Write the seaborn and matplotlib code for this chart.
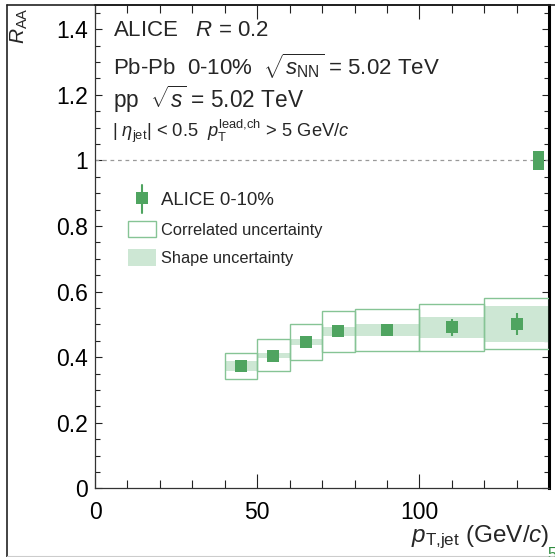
import numpy as np
import pandas as pd
import seaborn as sns
import matplotlib.pyplot as plt
from matplotlib.patches import Patch
from matplotlib.lines import Line2D
from matplotlib.ticker import MultipleLocator, FuncFormatter

# data
bin_lo = [40, 50, 60, 70, 80, 100, 120]
bin_hi = [50, 60, 70, 80, 100, 120, 140]
raa = [0.373, 0.405, 0.446, 0.479, 0.483, 0.491, 0.502]
stat_err = [0.006, 0.006, 0.006, 0.008, 0.012, 0.025, 0.033]
corr_lo = [0.334, 0.357, 0.392, 0.416, 0.418, 0.420, 0.424]
corr_hi = [0.412, 0.454, 0.501, 0.541, 0.548, 0.561, 0.580]
shape_lo = [0.358, 0.398, 0.436, 0.465, 0.464, 0.457, 0.446]
shape_hi = [0.388, 0.413, 0.456, 0.493, 0.502, 0.523, 0.557]
norm_x = [136.7]
norm_unc = [0.029]

df = pd.DataFrame({"lo": bin_lo, "hi": bin_hi, "raa": raa, "stat": stat_err,
                   "clo": corr_lo, "chi": corr_hi, "slo": shape_lo, "shi": shape_hi})
df["pt"] = (df["lo"] + df["hi"]) / 2
df["w"] = df["hi"] - df["lo"]

green = "#4fa460"
light = "#cde7d4"
edge = "#86c495"

sns.set_theme(style="ticks")
plt.rcParams["font.family"] = ["Liberation Sans", "DejaVu Sans"]
plt.rcParams["mathtext.fontset"] = "custom"
plt.rcParams["mathtext.rm"] = "Liberation Sans"
plt.rcParams["mathtext.it"] = "Liberation Sans:italic"
plt.rcParams["mathtext.bf"] = "Liberation Sans:bold"

fig = plt.figure(figsize=(5.55, 5.57), dpi=100)
ax = fig.add_axes([95 / 555, 1 - 488.3 / 557, 454.3 / 555, 483.6 / 557])

ax.axhline(1, color="#999999", lw=0.9, ls=(0, (3, 3)), zorder=1)

# shape uncertainty bands
ax.bar(df["lo"], df["shi"] - df["slo"], width=df["w"], bottom=df["slo"],
       align="edge", color=light, linewidth=0, zorder=2)
# correlated uncertainty boxes
ax.bar(df["lo"], df["chi"] - df["clo"], width=df["w"], bottom=df["clo"],
       align="edge", fill=False, edgecolor=edge, linewidth=1.0, zorder=3)
ax.errorbar(df["pt"], df["raa"], yerr=df["stat"], fmt="none", ecolor=green,
            elinewidth=1.5, capsize=0, zorder=4)
sns.scatterplot(data=df, x="pt", y="raa", marker="s", s=75, color=green,
                edgecolor="none", ax=ax, zorder=5, legend=False)
# normalisation uncertainty
ax.bar(norm_x, [2 * u for u in norm_unc], width=3.3,
       bottom=[1 - u for u in norm_unc], color=green, linewidth=0, zorder=5)

ax.set_xlim(0, 140)
ax.set_ylim(0, 1.475)
ax.xaxis.set_major_locator(MultipleLocator(50))
ax.xaxis.set_minor_locator(MultipleLocator(10))
ax.yaxis.set_major_locator(MultipleLocator(0.2))
ax.yaxis.set_minor_locator(MultipleLocator(0.05))
fmt = FuncFormatter(lambda v, p: f"{v:g}")
ax.xaxis.set_major_formatter(fmt)
ax.yaxis.set_major_formatter(fmt)
ax.tick_params(axis="both", which="both", direction="in", top=True, right=True,
               colors="#222222", width=0.8, labelsize=16.5, labelcolor="black")
ax.tick_params(axis="x", which="major", length=10, pad=9)
ax.tick_params(axis="x", which="minor", length=5.5)
ax.tick_params(axis="y", which="major", length=5, pad=5)
ax.tick_params(axis="y", which="minor", length=3.5)
for s in ["left", "bottom"]:
    ax.spines[s].set_linewidth(0.9)
    ax.spines[s].set_color("#333333")
ax.spines["top"].set_linewidth(1.2)
ax.spines["top"].set_color("black")
ax.spines["right"].set_linewidth(2.2)
ax.spines["right"].set_color("black")

ax.set_xlabel(r"$p_{\rm T{,}jet}$ (GeV/$c$)", fontsize=17.5, loc="right")
ax.xaxis.set_label_coords(1.0, -0.074)
ax.set_ylabel("")
fig.text(30 / 555, 1 - 7 / 557, r"$R_{\rm AA}$", rotation=90, ha="right",
         va="top", fontsize=15)

tx = 18 / 454.3
ax.text(tx, 0.936, r"ALICE   $R$ = 0.2", transform=ax.transAxes, fontsize=16,
        va="baseline")
ax.text(tx, 0.853, r"Pb-Pb  0-10%  $\sqrt{s_{\rm NN}}$ = 5.02 TeV",
        transform=ax.transAxes, fontsize=16, va="baseline")
ax.text(tx, 0.7855, r"pp  $\sqrt{s}$ = 5.02 TeV", transform=ax.transAxes,
        fontsize=16.3, va="baseline")
ax.text(tx - 0.003, 0.7254,
        r"| $\eta_{\rm jet}$| < 0.5  $p_{\rm T}^{\rm lead{,}ch}$ > 5 GeV/$c$",
        transform=ax.transAxes, fontsize=13.2, va="baseline")

handles = [
    Line2D([0], [0], color=green, marker="s", markersize=8.5, lw=0, markeredgewidth=0),
    Patch(facecolor="white", edgecolor=edge, linewidth=1.0),
    Patch(facecolor=light, edgecolor="none"),
]
labels = ["ALICE 0-10%", "Correlated uncertainty", "Shape uncertainty"]
leg = ax.legend(handles, labels, loc="upper left", bbox_to_anchor=(0.0726, 0.615),
                frameon=False, fontsize=11.8, handlelength=1.7, handleheight=1.2,
                handletextpad=0.3, labelspacing=0.72, borderpad=0, borderaxespad=0)
leg.get_texts()[0].set_fontsize(13.4)
# stat bar on the legend marker
ax.add_artist(Line2D([141.5 / 555] * 2, [1 - 185 / 557, 1 - 213 / 557],
                     transform=fig.transFigure, color=green, lw=1.5))

# canvas frame
fig.add_artist(Line2D([7 / 555, 7 / 555], [0, 1 - 5 / 557], transform=fig.transFigure,
                      color="#222222", lw=1.2))
fig.add_artist(Line2D([7 / 555, 1], [1 - 5 / 557] * 2, transform=fig.transFigure,
                      color="#222222", lw=1.2))
fig.add_artist(Line2D([7 / 555, 1], [1 / 557] * 2, transform=fig.transFigure,
                      color="#cccccc", lw=0.8))
fig.text(547 / 555, 1 - 547 / 557, "5", color="#2e8b3e", fontsize=12, va="top")

fig.savefig("out.png", dpi=100)
